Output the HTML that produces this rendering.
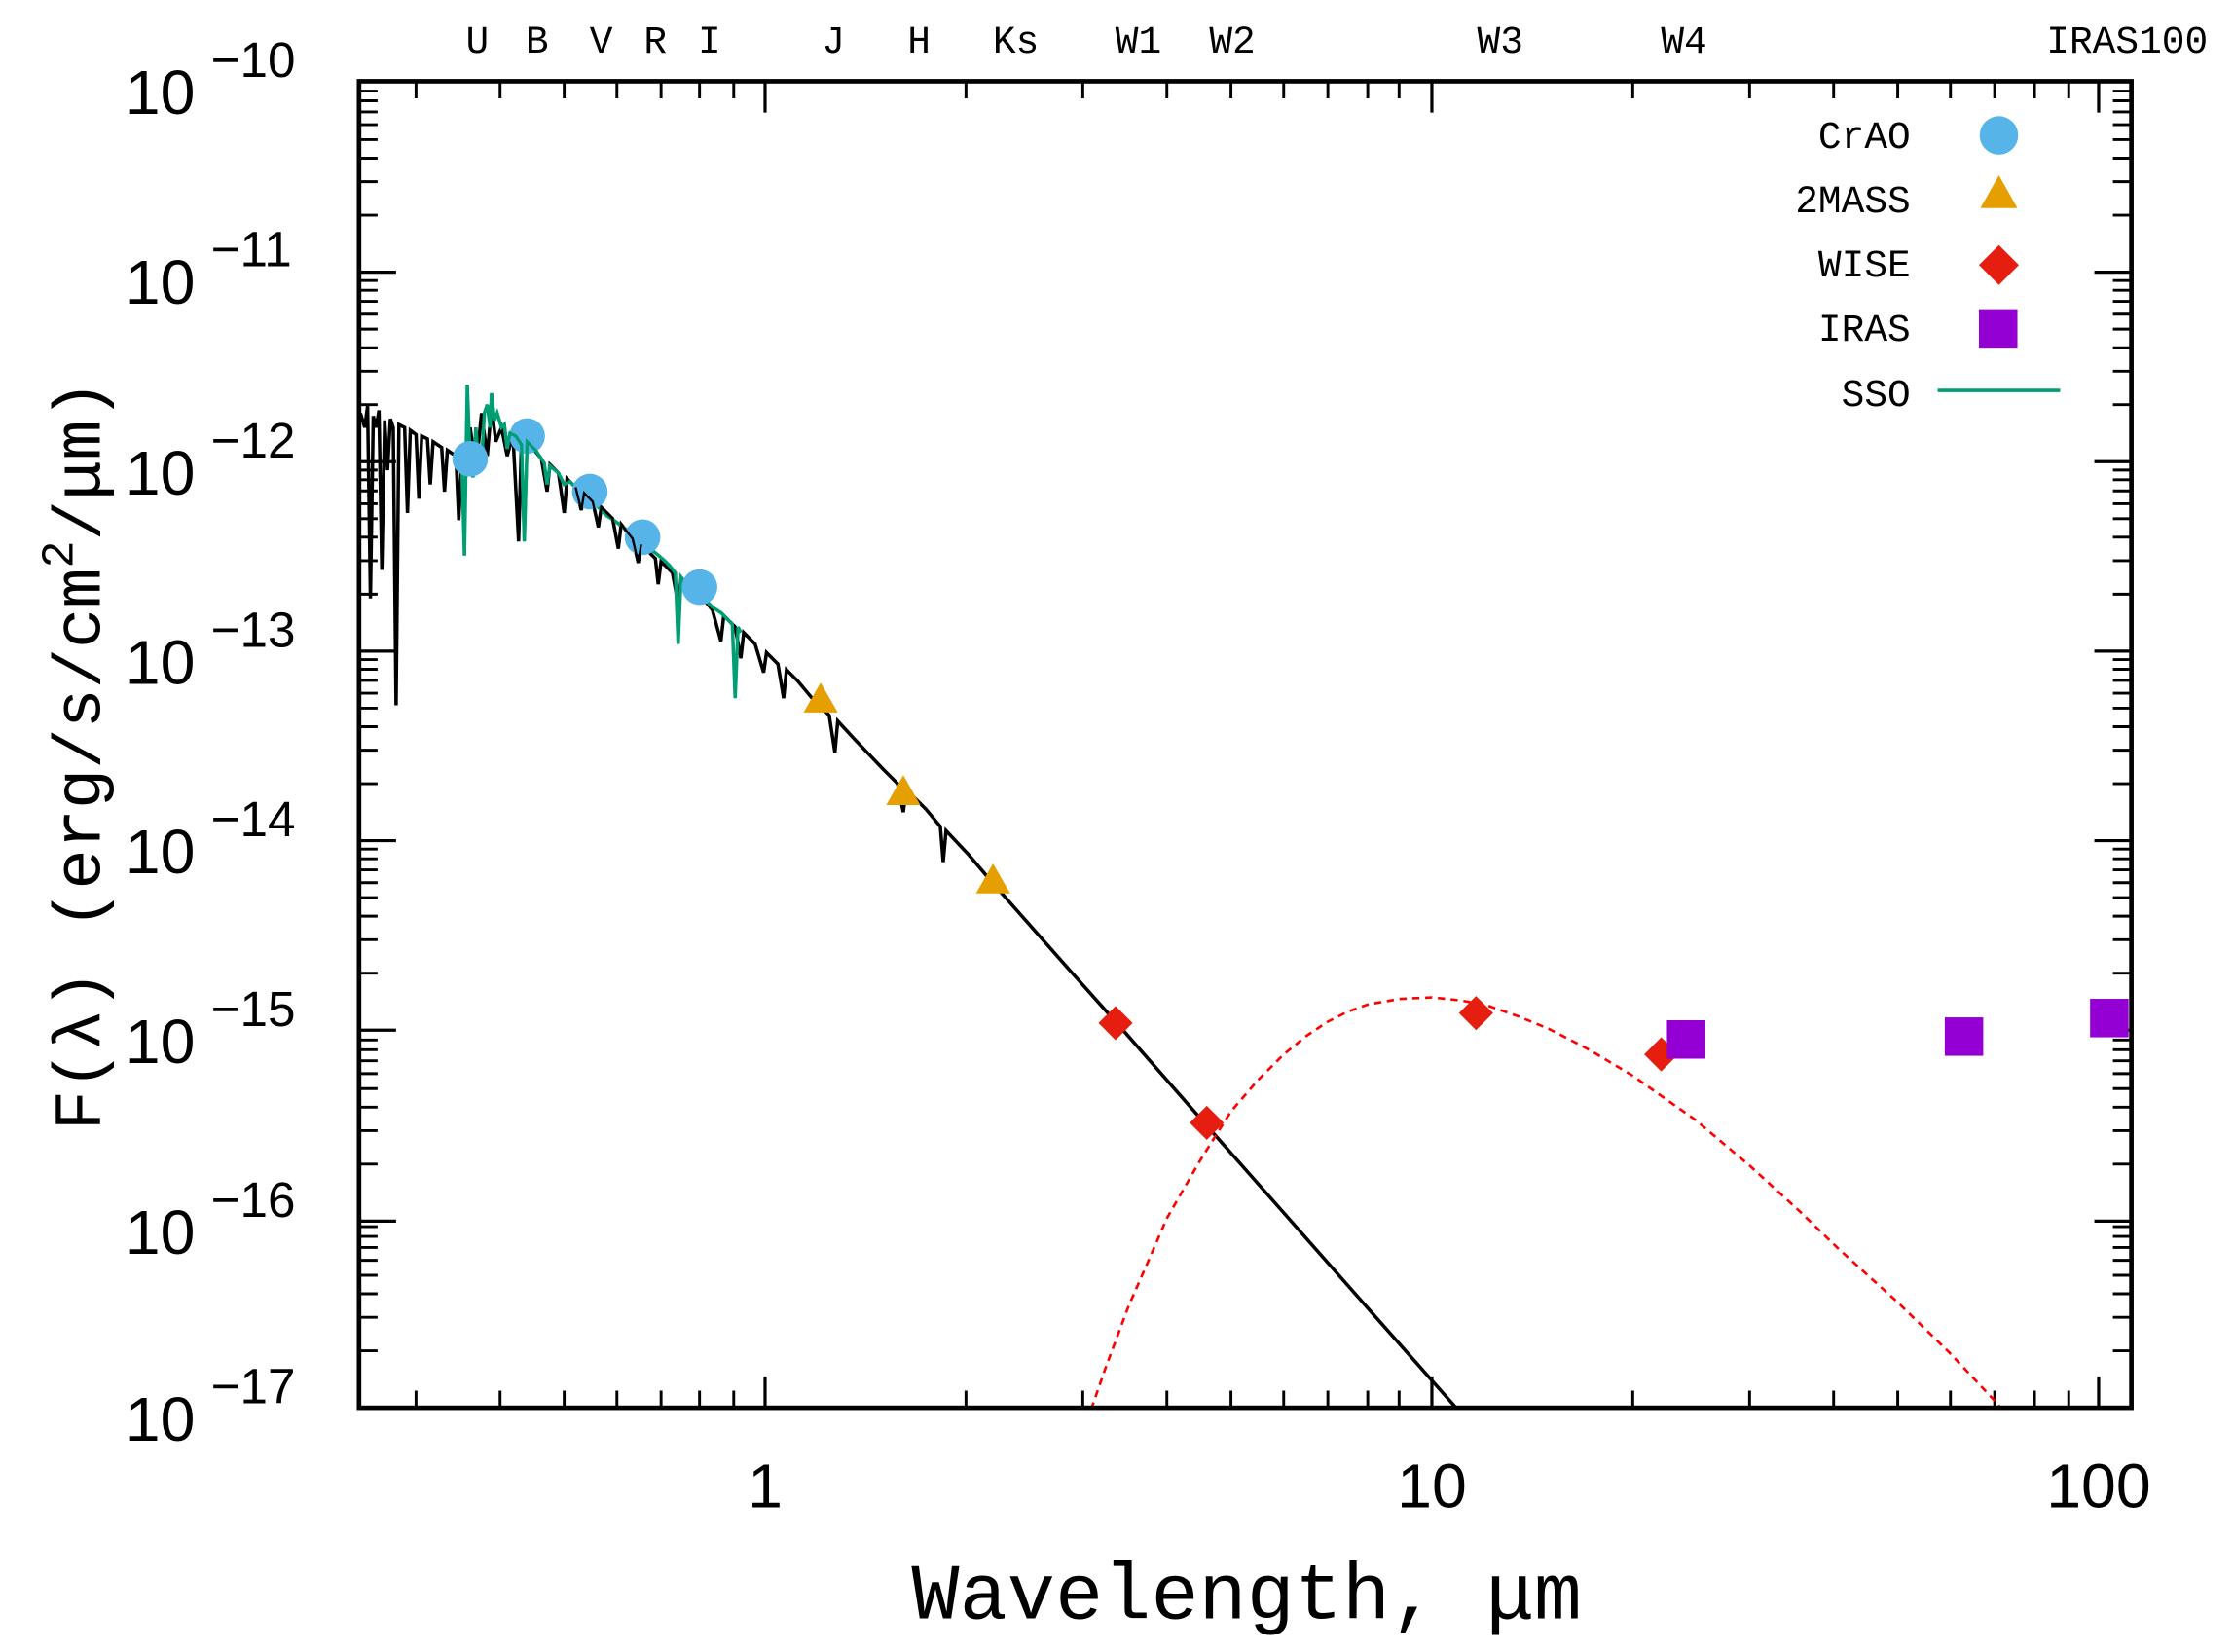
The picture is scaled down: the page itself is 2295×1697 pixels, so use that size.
<!DOCTYPE html>
<html><head><meta charset="utf-8"><style>
html,body{margin:0;padding:0;background:#fff;}
svg{display:block}
.s{font-family:"Liberation Sans",sans-serif;fill:#000}
.m{font-family:"Liberation Mono",monospace;fill:#000}
</style></head><body>
<svg width="2295" height="1697" viewBox="0 0 1568 1159.4" xmlns="http://www.w3.org/2000/svg">
<rect x="0" y="0" width="1568" height="1160" fill="#fff"/>
<defs><clipPath id="c"><rect x="252" y="57" width="1244" height="931"/></clipPath></defs>
<g stroke="#000" stroke-width="2.2" fill="none">
<path d="M252 191h26M252 324h26M252 457h26M252 590h26M252 723h26M252 857h26
M1496 191h-26M1496 324h-26M1496 457h-26M1496 590h-26M1496 723h-26M1496 857h-26
M537 988v-22M1005 988v-22M1473 988v-22
M537 57v22M1005 57v22M1473 57v22"/>
</g>
<g stroke="#000" stroke-width="2" fill="none">
<path d="
M252 151h13M252 127.5h13M252 111h13M252 98h13M252 87.5h13M252 78.5h13M252 70.7h13M252 63.9h13
M252 284h13M252 260.5h13M252 244h13M252 231h13M252 220.5h13M252 211.5h13M252 203.7h13M252 196.9h13
M252 417h13M252 393.5h13M252 377h13M252 364h13M252 353.5h13M252 344.5h13M252 336.7h13M252 329.9h13
M252 550h13M252 526.5h13M252 510h13M252 497h13M252 486.5h13M252 477.5h13M252 469.7h13M252 462.9h13
M252 683h13M252 659.5h13M252 643h13M252 630h13M252 619.5h13M252 610.5h13M252 602.7h13M252 595.9h13
M252 817h13M252 793.5h13M252 777h13M252 764h13M252 753.5h13M252 744.5h13M252 736.7h13M252 729.9h13
M252 948h13M252 924.5h13M252 908h13M252 895h13M252 884.5h13M252 875.5h13M252 867.7h13M252 860.9h13
M1496 151h-13M1496 127.5h-13M1496 111h-13M1496 98h-13M1496 87.5h-13M1496 78.5h-13M1496 70.7h-13M1496 63.9h-13
M1496 284h-13M1496 260.5h-13M1496 244h-13M1496 231h-13M1496 220.5h-13M1496 211.5h-13M1496 203.7h-13M1496 196.9h-13
M1496 417h-13M1496 393.5h-13M1496 377h-13M1496 364h-13M1496 353.5h-13M1496 344.5h-13M1496 336.7h-13M1496 329.9h-13
M1496 550h-13M1496 526.5h-13M1496 510h-13M1496 497h-13M1496 486.5h-13M1496 477.5h-13M1496 469.7h-13M1496 462.9h-13
M1496 683h-13M1496 659.5h-13M1496 643h-13M1496 630h-13M1496 619.5h-13M1496 610.5h-13M1496 602.7h-13M1496 595.9h-13
M1496 817h-13M1496 793.5h-13M1496 777h-13M1496 764h-13M1496 753.5h-13M1496 744.5h-13M1496 736.7h-13M1496 729.9h-13
M1496 948h-13M1496 924.5h-13M1496 908h-13M1496 895h-13M1496 884.5h-13M1496 875.5h-13M1496 867.7h-13M1496 860.9h-13
M292 988v-12M351 988v-12M396 988v-12M433 988v-12M464 988v-12M491 988v-12M515 988v-12
M678 988v-12M760 988v-12M819 988v-12M864 988v-12M901 988v-12M932 988v-12M960 988v-12M982 988v-12
M1146 988v-12M1228 988v-12M1287 988v-12M1332 988v-12M1369 988v-12M1400 988v-12M1428 988v-12M1452 988v-12
M292 57v12M351 57v12M396 57v12M433 57v12M464 57v12M491 57v12M515 57v12
M678 57v12M760 57v12M819 57v12M864 57v12M901 57v12M932 57v12M960 57v12M982 57v12
M1146 57v12M1228 57v12M1287 57v12M1332 57v12M1369 57v12M1400 57v12M1428 57v12M1452 57v12"/>
</g>
<g clip-path="url(#c)">
<polyline fill="none" stroke="#000" stroke-width="2.4" points="253,290 256,300 258,285 260,420 262,292 264,300 266,288 268,400 270,295 272,330 274,294 276,300 278,495 280,298 284,300 286,360 288,302 292,305 294,350 296,306 300,308 302,340 304,310 310,314 312,345 314,316 320,320 322,365 324,322 328,325 330,300 334,330 338,290 342,320 345,285 348,310 352,300 356,320 360,305 364,380 366,310 372,312 380,322 384,345 386,326 392,332 396,360 398,336 404,342 408,358 410,346 416,352 420,370 422,356 430,364 434,385 436,368 444,378 448,395 450,382 460,392 462,410 464,394 472,402 476,424 478,406 490,416 500,428 506,450 508,432 516,440 520,462 522,444 530,452 536,472 538,458 546,466 550,490 552,470 560,478 570,490 576,496 582,502 586,528 588,506 600,519 620,540 630,550 634,570 636,554 650,568 660,580 662,605 664,583 680,600 697,620 750,680 783,717 847,790 900,850 960,918 1022,988 1030,997"/>
<polyline fill="none" stroke="#009e73" stroke-width="2.4" points="322,330 324,320 326,390 328,270 330,325 332,335 334,300 336,330 338,325 340,290 342,284 344,300 345,276 347,295 349,290 352,300 354,298 356,315 358,304 362,306 366,312 368,380 370,310 376,316 382,325 384,340 386,327 392,332 396,340 400,338 406,344 410,350 414,352 420,356 426,362 432,366 440,372 444,376 450,378 456,385 460,388 466,393 470,397 474,402 476,452 478,405 482,410 488,416 494,420 500,426 506,430 510,434 514,438 516,490 518,440 520,444"/>
<polyline fill="none" stroke="#ff0000" stroke-width="1.8" stroke-dasharray="5,4" points="760,1006 776,960 792,917 806,885 819,855 842,815 864,780 883,758 901,740 917,727 932,717 946,710 960,705 983,701 1005,700 1024,702 1042,705 1065,713 1087,722 1116,737 1146,755 1190,786 1228,818 1262,849 1290,876 1332,914 1368,949 1400,983 1410,995"/>
<g fill="#56b4e9">
<circle cx="330" cy="322" r="12.5"/><circle cx="370" cy="306" r="12.5"/><circle cx="414" cy="345" r="12.5"/><circle cx="451" cy="377" r="12.5"/><circle cx="491" cy="412" r="12.5"/>
</g>
</g>
<g clip-path="url(#c)">
<polyline fill="none" stroke="#009e73" stroke-width="2.2" points="340,290 342,284 344,300 345,276 347,295 349,290 352,300 354,298 356,315 358,304 362,306 366,312 368,380 370,310 376,316 382,325"/>
<polyline fill="none" stroke="#000" stroke-width="1.6" points="404,342 408,358 410,346 416,352 420,370 422,356 430,364 434,385 436,368 444,378 448,395 450,382"/>
</g>
<g fill="#e69f00">
<polygon points="576,479 588,500 564,500"/><polygon points="634,544 646,565 622,565"/><polygon points="697,606 709,627 685,627"/>
</g>
<g fill="#e51e10">
<polygon points="783,706 795,718 783,730 771,718"/><polygon points="847,776 859,788 847,800 835,788"/><polygon points="1036,699 1048,711 1036,723 1024,711"/><polygon points="1166,728 1178,740 1166,752 1154,740"/>
</g>
<g fill="#9400d3">
<rect x="1170" y="716" width="27" height="27"/><rect x="1365" y="714" width="27" height="27"/><rect x="1467" y="701" width="27" height="27"/>
</g>
<rect x="252" y="57" width="1244" height="931" fill="none" stroke="#000" stroke-width="3.2"/>
<g class="m" font-size="27" text-anchor="end">
<text x="1341" y="104">CrAO</text><text x="1341" y="149">2MASS</text><text x="1341" y="194">WISE</text><text x="1341" y="239">IRAS</text><text x="1341" y="285">SSO</text>
</g>
<circle cx="1403" cy="95" r="13.5" fill="#56b4e9"/>
<polygon points="1403,123 1416,146 1390,146" fill="#e69f00"/>
<polygon points="1403,172 1417,186 1403,200 1389,186" fill="#e51e10"/>
<rect x="1389" y="217" width="27" height="27" fill="#9400d3"/>
<line x1="1360" y1="274" x2="1446" y2="274" stroke="#009e73" stroke-width="2.4"/>
<g class="m" font-size="27" text-anchor="middle">
<text x="335" y="37">U</text><text x="377" y="37">B</text><text x="422" y="37">V</text><text x="460" y="37">R</text><text x="498" y="37">I</text>
<text x="585" y="37">J</text><text x="645" y="37">H</text><text x="713" y="37">Ks</text><text x="799" y="37">W1</text><text x="865" y="37">W2</text>
<text x="1053" y="37">W3</text><text x="1182" y="37">W4</text><text x="1493" y="37">IRAS100</text>
</g>
<g class="s">
<g font-size="44"><text x="88" y="80">10</text><text x="88" y="213">10</text><text x="88" y="347">10</text><text x="88" y="480">10</text><text x="88" y="613">10</text><text x="88" y="746">10</text><text x="88" y="880">10</text><text x="88" y="1011">10</text></g>
<g font-size="35"><text x="148" y="54">−10</text><text x="148" y="187">−11</text><text x="148" y="321">−12</text><text x="148" y="454">−13</text><text x="148" y="587">−14</text><text x="148" y="720">−15</text><text x="148" y="854">−16</text><text x="148" y="985">−17</text></g>
<g font-size="44" text-anchor="middle"><text x="537" y="1058">1</text><text x="1005" y="1058">10</text><text x="1473" y="1058">100</text></g>
</g>
<text class="m" x="875" y="1136" font-size="56" text-anchor="middle">Wavelength, μm</text>
<text class="m" font-size="47" text-anchor="middle" transform="translate(70,530) rotate(-90)">F(λ) (erg/s/cm<tspan dy="-19" font-size="32">2</tspan><tspan dy="19">/μm)</tspan></text>
</svg>
</body></html>
